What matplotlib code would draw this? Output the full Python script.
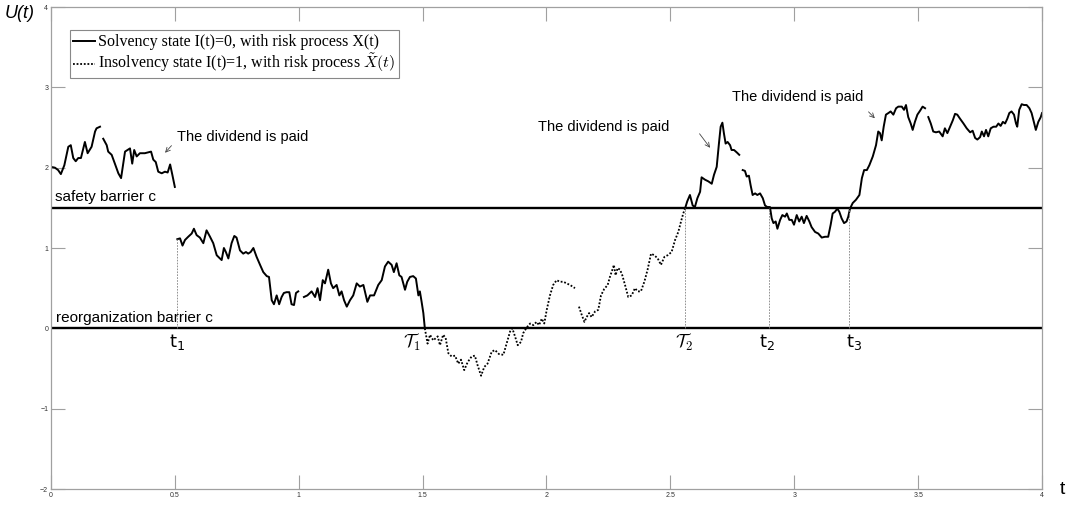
import numpy as np
import matplotlib
matplotlib.use('Agg')
import matplotlib.pyplot as plt

# solvency (solid) pieces
s1_t = [0, 0.016, 0.029, 0.040, 0.054, 0.070, 0.080, 0.090, 0.100, 0.110, 0.121, 0.137, 0.148, 0.164, 0.178, 0.184, 0.198]
s1_u = [2.01, 2.00, 1.97, 1.92, 2.03, 2.26, 2.28, 2.12, 2.08, 2.12, 2.12, 2.32, 2.18, 2.26, 2.45, 2.49, 2.51]

s2_t = [0.211, 0.225, 0.231, 0.245, 0.258, 0.272, 0.283, 0.299, 0.319, 0.328, 0.336, 0.346, 0.359, 0.379, 0.404,
        0.413, 0.423, 0.433, 0.447, 0.460, 0.471, 0.481, 0.490, 0.500]
s2_u = [2.36, 2.28, 2.20, 2.16, 2.05, 1.93, 1.87, 2.20, 2.24, 2.05, 2.22, 2.14, 2.18, 2.18, 2.20,
        2.10, 2.07, 1.95, 1.93, 1.95, 1.94, 2.04, 1.91, 1.76]

s3_t = [0.510, 0.521, 0.531, 0.541, 0.554, 0.568, 0.577, 0.588, 0.601, 0.615, 0.628, 0.642, 0.655, 0.669, 0.682,
        0.689, 0.698, 0.706, 0.716, 0.729, 0.740, 0.749, 0.763, 0.776, 0.787, 0.796, 0.806, 0.817, 0.830, 0.844,
        0.857, 0.871, 0.880, 0.891, 0.900, 0.911, 0.921, 0.931, 0.940, 0.951, 0.962, 0.971, 0.981, 0.989, 0.998]
s3_u = [1.11, 1.12, 1.03, 1.10, 1.14, 1.18, 1.24, 1.16, 1.13, 1.06, 1.22, 1.14, 1.06, 0.91, 0.87,
        0.85, 1.00, 0.95, 0.87, 1.06, 1.15, 1.13, 0.97, 0.93, 0.95, 0.93, 0.95, 1.00, 0.89, 0.79,
        0.70, 0.65, 0.64, 0.35, 0.30, 0.41, 0.30, 0.39, 0.44, 0.45, 0.45, 0.30, 0.29, 0.44, 0.46]

s4_t = [1.021, 1.035, 1.052, 1.066, 1.076, 1.086, 1.097, 1.106, 1.113, 1.119, 1.130, 1.139, 1.153, 1.164, 1.173,
        1.183, 1.194, 1.207, 1.220, 1.234, 1.247, 1.261, 1.277, 1.288, 1.304, 1.321, 1.335, 1.348, 1.361, 1.375,
        1.384, 1.395, 1.406, 1.415, 1.429, 1.438, 1.449, 1.462, 1.473, 1.483, 1.489, 1.496, 1.503, 1.509]
s4_u = [0.39, 0.41, 0.46, 0.39, 0.50, 0.35, 0.60, 0.56, 0.65, 0.73, 0.56, 0.50, 0.54, 0.41, 0.46,
        0.35, 0.27, 0.35, 0.41, 0.56, 0.52, 0.54, 0.33, 0.41, 0.41, 0.54, 0.60, 0.77, 0.83, 0.79,
        0.70, 0.81, 0.66, 0.64, 0.48, 0.58, 0.64, 0.65, 0.62, 0.41, 0.46, 0.33, 0.19, 0.00]

s5_t = [2.560, 2.568, 2.579, 2.590, 2.599, 2.609, 2.620, 2.626, 2.640, 2.653, 2.667, 2.676, 2.687, 2.696, 2.703,
        2.710, 2.716, 2.723, 2.731, 2.741, 2.747, 2.757, 2.768, 2.778]
s5_u = [1.50, 1.58, 1.66, 1.53, 1.51, 1.62, 1.70, 1.88, 1.85, 1.83, 1.80, 1.91, 2.01, 2.30, 2.51,
        2.56, 2.43, 2.30, 2.32, 2.28, 2.22, 2.22, 2.19, 2.16]

s6_t = [2.792, 2.801, 2.808, 2.817, 2.824, 2.832, 2.842, 2.851, 2.862, 2.873, 2.882, 2.891, 2.902, 2.909, 2.916,
        2.925, 2.932, 2.943, 2.952, 2.963, 2.970, 2.980, 2.990, 2.999, 3.010, 3.020, 3.030, 3.039, 3.050, 3.061,
        3.070, 3.084, 3.097, 3.111, 3.124, 3.137, 3.147, 3.155, 3.164, 3.174, 3.182, 3.191, 3.201, 3.211, 3.218,
        3.225, 3.236, 3.249, 3.263, 3.273, 3.282, 3.293, 3.303, 3.317, 3.330, 3.339, 3.346, 3.353, 3.361, 3.370,
        3.380, 3.389, 3.400, 3.411, 3.420, 3.434, 3.443, 3.451, 3.460, 3.470, 3.478, 3.487, 3.497, 3.508, 3.518, 3.528]
s6_u = [1.97, 1.96, 1.89, 1.90, 1.78, 1.66, 1.68, 1.66, 1.68, 1.62, 1.53, 1.51, 1.51, 1.37, 1.31,
        1.33, 1.24, 1.35, 1.41, 1.39, 1.43, 1.35, 1.35, 1.29, 1.41, 1.33, 1.39, 1.31, 1.40, 1.33,
        1.26, 1.20, 1.18, 1.13, 1.14, 1.14, 1.29, 1.43, 1.45, 1.49, 1.45, 1.37, 1.31, 1.33, 1.39,
        1.49, 1.56, 1.60, 1.66, 1.87, 1.97, 1.97, 2.03, 2.14, 2.28, 2.45, 2.43, 2.34, 2.51, 2.66,
        2.68, 2.70, 2.66, 2.74, 2.76, 2.76, 2.72, 2.78, 2.63, 2.55, 2.47, 2.57, 2.66, 2.71, 2.76, 2.74]

s7_t = [3.541, 3.551, 3.561, 3.572, 3.585, 3.599, 3.608, 3.618, 3.629, 3.640, 3.649, 3.658, 3.669, 3.683, 3.696,
        3.710, 3.720, 3.730, 3.739, 3.750, 3.757, 3.766, 3.774, 3.783, 3.793, 3.804, 3.815, 3.824, 3.833, 3.842,
        3.851, 3.860, 3.868, 3.877, 3.887, 3.895, 3.900, 3.908, 3.918, 3.927, 3.938, 3.949, 3.958, 3.967, 3.975,
        3.985, 3.995, 4.0]
s7_u = [2.63, 2.55, 2.45, 2.44, 2.45, 2.39, 2.49, 2.43, 2.51, 2.59, 2.67, 2.66, 2.61, 2.55, 2.49,
        2.44, 2.46, 2.37, 2.35, 2.38, 2.45, 2.39, 2.47, 2.39, 2.49, 2.51, 2.51, 2.55, 2.52, 2.57,
        2.55, 2.61, 2.68, 2.70, 2.66, 2.55, 2.51, 2.72, 2.79, 2.78, 2.78, 2.74, 2.68, 2.57, 2.47,
        2.57, 2.63, 2.68]

# insolvency (dotted) pieces
d1_t = [1.509, 1.520, 1.530, 1.543, 1.561, 1.570, 1.583, 1.593, 1.604, 1.617, 1.631, 1.644, 1.655, 1.668, 1.682,
        1.698, 1.711, 1.722, 1.736, 1.749, 1.762, 1.779, 1.792, 1.808, 1.826, 1.839, 1.853, 1.862, 1.873, 1.884,
        1.897, 1.906, 1.920, 1.934, 1.947, 1.960, 1.970, 1.981, 1.991, 2.001, 2.014, 2.027, 2.041, 2.054, 2.068,
        2.081, 2.095, 2.115]
d1_u = [0, -0.19, -0.08, -0.15, -0.10, -0.21, -0.08, -0.12, -0.31, -0.35, -0.34, -0.44, -0.39, -0.52, -0.42,
        -0.35, -0.34, -0.46, -0.59, -0.48, -0.44, -0.29, -0.27, -0.32, -0.33, -0.19, -0.04, 0.0, -0.10, -0.21,
        -0.17, -0.06, 0.01, 0.06, 0.04, 0.08, 0.04, 0.12, 0.06, 0.23, 0.41, 0.54, 0.60, 0.58, 0.58,
        0.56, 0.54, 0.50]

d2_t = [2.131, 2.142, 2.153, 2.162, 2.172, 2.182, 2.196, 2.209, 2.220, 2.233, 2.247, 2.256, 2.266, 2.272, 2.279,
        2.287, 2.297, 2.306, 2.317, 2.330, 2.344, 2.357, 2.368, 2.381, 2.395, 2.408, 2.422, 2.435, 2.449, 2.462,
        2.476, 2.489, 2.505, 2.519, 2.532, 2.543, 2.552, 2.560]
d2_u = [0.27, 0.17, 0.08, 0.14, 0.19, 0.14, 0.21, 0.23, 0.41, 0.49, 0.54, 0.64, 0.73, 0.79, 0.66,
        0.75, 0.73, 0.66, 0.54, 0.39, 0.41, 0.50, 0.46, 0.46, 0.58, 0.73, 0.93, 0.91, 0.87, 0.79,
        0.89, 0.91, 0.95, 1.10, 1.20, 1.33, 1.43, 1.50]

safety_c = 1.5
reorg_c = 0.0

mark_t = [0.51, 2.56, 2.90, 3.221]
mark_top = [1.11, 1.5, 1.5, 1.5]
mark_lab = [r'$\mathrm{t}_1$', r'$\mathcal{T}_1$', r'$\mathcal{T}_2$', r'$\mathrm{t}_2$', r'$\mathrm{t}_3$']
mark_lab_t = [0.51, 1.457, 2.555, 2.89, 3.24]

solid = [(s1_t, s1_u), (s2_t, s2_u), (s3_t, s3_u), (s4_t, s4_u), (s5_t, s5_u), (s6_t, s6_u), (s7_t, s7_u)]
dotted = [(d1_t, d1_u), (d2_t, d2_u)]

plt.rcParams['font.family'] = ['Liberation Sans', 'DejaVu Sans']

fig = plt.figure(figsize=(10.66, 5.08), dpi=100)
ax = fig.add_axes([0.0478, 0.0374, 0.9297, 0.9488])

for i, (t, u) in enumerate(solid):
    ax.plot(t, u, color='black', lw=1.4, label='Solvency state I(t)=0, with risk process X(t)' if i == 0 else None)
for i, (t, u) in enumerate(dotted):
    ax.plot(t, u, color='black', lw=1.3, ls=(0, (1, 1)),
            label=r'Insolvency state I(t)=1, with risk process $\tilde{X}(t)$' if i == 0 else None)

ax.axhline(safety_c, color='black', lw=1.7)
ax.axhline(reorg_c, color='black', lw=1.7)

for t, top in zip(mark_t, mark_top):
    ax.plot([t, t], [reorg_c, top], color='gray', lw=0.6, ls=(0, (2, 1.5)))

for lab, t in zip(mark_lab, mark_lab_t):
    ax.text(t, -0.04, lab, ha='center', va='top', fontsize=13, math_fontfamily='dejavusans' if 'mathrm' in lab else 'cm')

ax.text(0.016, 1.63, 'safety barrier c', fontsize=11, va='center')
ax.text(0.02, 0.13, 'reorganization barrier c', fontsize=11, va='center')

# dividend annotations
ax.text(0.509, 2.38, 'The dividend is paid', fontsize=10.5, va='center')
ax.text(1.966, 2.51, 'The dividend is paid', fontsize=10.5, va='center')
ax.text(2.749, 2.88, 'The dividend is paid', fontsize=10.5, va='center')
arrows = [((0.494, 2.30), (0.453, 2.16)), ((2.611, 2.45), (2.667, 2.22)), ((3.292, 2.72), (3.333, 2.59))]
for tail, head in arrows:
    ax.annotate('', xy=head, xytext=tail,
                arrowprops=dict(arrowstyle='->', color='#444444', lw=0.6, mutation_scale=8))

ax.set_xlim(0, 4)
ax.set_ylim(-2, 4)
ax.set_xticks(np.arange(0, 4.01, 0.5))
ax.set_xticklabels(['0', '0.5', '1', '1.5', '2', '2.5', '3', '3.5', '4'])
ax.set_yticks(np.arange(-2, 4.01, 1))
ax.tick_params(direction='in', length=10, width=0.8, color='#a0a0a0', labelsize=5, labelcolor='#333333',
               top=True, right=True, pad=2)
for sp in ax.spines.values():
    sp.set_color('#a0a0a0')
    sp.set_linewidth(0.9)

leg = ax.legend(loc='upper left', bbox_to_anchor=(0.019, 0.952), borderaxespad=0, fancybox=False,
                edgecolor='#888888', framealpha=1, handlelength=1.6, handletextpad=0.2, borderpad=0.25,
                labelspacing=0.15, prop={'family': ['DejaVu Serif'], 'size': 10})
leg.get_frame().set_linewidth(0.8)
for txt in leg.get_texts():
    txt.set_fontfamily(['Liberation Serif', 'DejaVu Serif'])
    txt.set_fontsize(11.5)
    txt.set_math_fontfamily('cm')

fig.text(20 / 1066, 1 - 13 / 508, 'U(t)', fontsize=13, style='italic', ha='center', va='center')
fig.text(1062 / 1066, 1 - 489 / 508, 't', fontsize=14, ha='center', va='center')

plt.savefig('out.png', dpi=100)
